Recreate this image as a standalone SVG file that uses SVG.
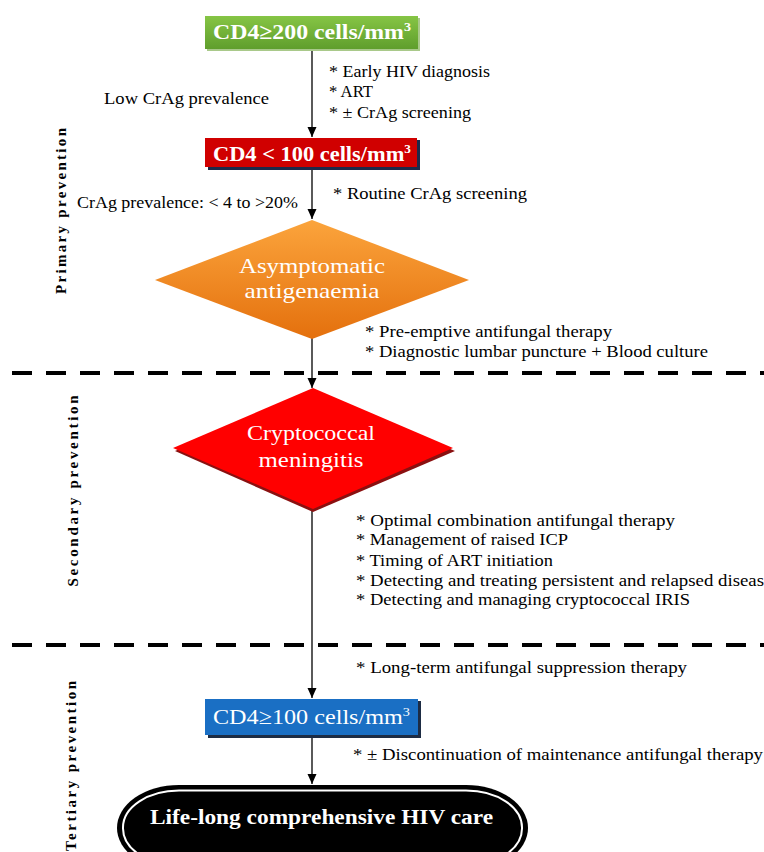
<svg xmlns="http://www.w3.org/2000/svg" width="764" height="852" viewBox="0 0 764 852">
<defs>
<linearGradient id="gGreen" x1="0" y1="0" x2="0" y2="1"><stop offset="0" stop-color="#86c545"/><stop offset="1" stop-color="#5f9e2c"/></linearGradient>
<linearGradient id="gOrange" x1="0" y1="0" x2="0" y2="1"><stop offset="0" stop-color="#fba43c"/><stop offset="1" stop-color="#e4700d"/></linearGradient>
<marker id="arr" markerUnits="userSpaceOnUse" markerWidth="10" markerHeight="10" refX="10" refY="4.5" orient="auto"><path d="M0,0 L10,4.5 L0,9 z" fill="#000"/></marker>
<style>
.t{font-size:17px;fill:#000}
.n{font-size:22px;fill:#fff;font-weight:bold}
.d{font-size:22px;fill:#fff}
.side{font-size:15px;font-weight:bold;fill:#000}
.con{stroke:#000;stroke-width:1.3;fill:none;marker-end:url(#arr)}
.dash{stroke:#000;stroke-width:4;stroke-dasharray:20 14;fill:none}
</style>
</defs>
<rect width="764" height="852" fill="#fff"/>

<g id="dividers">
<line class="dash" x1="12" y1="373" x2="764" y2="373"/>
<line class="dash" x1="12" y1="645" x2="764" y2="645"/>
</g>

<g id="connectors">
<line class="con" x1="312" y1="50" x2="312" y2="137"/>
<line class="con" x1="312" y1="168" x2="312" y2="219"/>
<line class="con" x1="312" y1="338" x2="312" y2="388"/>
<line class="con" x1="312" y1="510" x2="312" y2="698"/>
<line class="con" x1="312" y1="738" x2="312" y2="784"/>
</g>

<g id="labels" font-family="Liberation Serif">
<text class="t" x="329" y="77" textLength="161" lengthAdjust="spacingAndGlyphs">* Early HIV diagnosis</text>
<text class="t" x="329" y="97" textLength="44" lengthAdjust="spacingAndGlyphs">* ART</text>
<text class="t" x="329" y="118" textLength="142" lengthAdjust="spacingAndGlyphs">* ± CrAg screening</text>
<text class="t" x="104" y="104" textLength="165" lengthAdjust="spacingAndGlyphs">Low CrAg prevalence</text>
<text class="t" x="333" y="199" textLength="194" lengthAdjust="spacingAndGlyphs">* Routine CrAg screening</text>
<text class="t" x="77" y="208" textLength="221" lengthAdjust="spacingAndGlyphs">CrAg prevalence: &lt; 4 to &gt;20%</text>
<text class="t" x="365" y="337" textLength="247" lengthAdjust="spacingAndGlyphs">* Pre-emptive antifungal therapy</text>
<text class="t" x="365" y="357" textLength="343" lengthAdjust="spacingAndGlyphs">* Diagnostic lumbar puncture + Blood culture</text>
<text class="t" x="356" y="526" textLength="319" lengthAdjust="spacingAndGlyphs">* Optimal combination antifungal therapy</text>
<text class="t" x="356" y="545" textLength="212" lengthAdjust="spacingAndGlyphs">* Management of raised ICP</text>
<text class="t" x="356" y="566" textLength="197" lengthAdjust="spacingAndGlyphs">* Timing of ART initiation</text>
<text class="t" x="356" y="586" textLength="408" lengthAdjust="spacingAndGlyphs">* Detecting and treating persistent and relapsed diseas</text>
<text class="t" x="356" y="605" textLength="334" lengthAdjust="spacingAndGlyphs">* Detecting and managing cryptococcal IRIS</text>
<text class="t" x="356" y="673" textLength="331" lengthAdjust="spacingAndGlyphs">* Long-term antifungal suppression therapy</text>
<text class="t" x="353" y="760" textLength="410" lengthAdjust="spacingAndGlyphs">* ± Discontinuation of maintenance antifungal therapy</text>
</g>

<g id="sections" font-family="Liberation Serif">
<text class="side" transform="translate(66,211) rotate(-90)" text-anchor="middle" textLength="166" lengthAdjust="spacing">Primary prevention</text>
<text class="side" transform="translate(78,491) rotate(-90)" text-anchor="middle" textLength="191" lengthAdjust="spacing">Secondary prevention</text>
<text class="side" transform="translate(76,766) rotate(-90)" text-anchor="middle" textLength="170" lengthAdjust="spacing">Tertiary prevention</text>
</g>

<g id="node-cd4-200" font-family="Liberation Serif">
<rect x="207" y="18" width="213" height="33" fill="#a9c98a"/>
<rect x="205" y="16" width="213" height="33" fill="url(#gGreen)"/>
<text class="n" x="213" y="39" textLength="198" lengthAdjust="spacingAndGlyphs">CD4≥200 cells/mm<tspan dy="-8" font-size="13">3</tspan></text>
</g>

<g id="node-cd4-100-low" font-family="Liberation Serif">
<rect x="208" y="140" width="212" height="30" fill="#1c2a4a"/>
<rect x="205" y="138" width="212" height="29" fill="#d00000"/>
<text class="n" x="213" y="161" textLength="198" lengthAdjust="spacingAndGlyphs">CD4 &lt; 100 cells/mm<tspan dy="-8" font-size="13">3</tspan></text>
</g>

<g id="node-antigenaemia" font-family="Liberation Serif">
<polygon points="312,220 469,280 312,339 155,280" fill="url(#gOrange)"/>
<text class="d" x="312" y="273" text-anchor="middle" textLength="146" lengthAdjust="spacingAndGlyphs">Asymptomatic</text>
<text class="d" x="312" y="298" text-anchor="middle" textLength="135" lengthAdjust="spacingAndGlyphs">antigenaemia</text>
</g>

<g id="node-meningitis" font-family="Liberation Serif">
<polygon points="313,391 455,451 313,512 175,451" fill="#8a1010"/>
<polygon points="313,388 453,448 313,509 173,448" fill="#ff0000"/>
<text class="d" x="311" y="440" text-anchor="middle" textLength="128" lengthAdjust="spacingAndGlyphs">Cryptococcal</text>
<text class="d" x="311" y="467" text-anchor="middle" textLength="105" lengthAdjust="spacingAndGlyphs">meningitis</text>
</g>

<g id="node-cd4-100-high" font-family="Liberation Serif">
<rect x="208" y="701" width="213" height="37" fill="#1d2c44"/>
<rect x="205" y="699" width="213" height="36" fill="#1a6fc4"/>
<text class="d" x="213" y="724" textLength="197" lengthAdjust="spacingAndGlyphs">CD4≥100 cells/mm<tspan dy="-8" font-size="13">3</tspan></text>
</g>

<g id="node-hiv-care" font-family="Liberation Serif">
<rect x="117" y="785" width="411" height="86" rx="62" ry="43" fill="#000"/>
<rect x="123" y="790.5" width="399" height="75" rx="56" ry="37" fill="none" stroke="#fff" stroke-width="2"/>
<text class="n" x="150" y="824" textLength="343" lengthAdjust="spacingAndGlyphs" font-size="24">Life-long comprehensive HIV care</text>
</g>
</svg>
